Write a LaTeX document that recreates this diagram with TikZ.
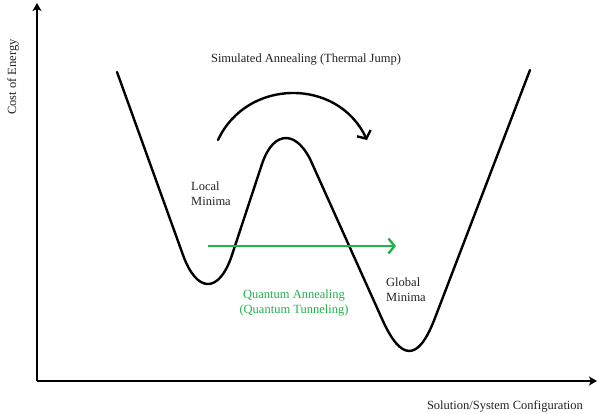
\documentclass[tikz,border=0pt]{standalone}
\usepackage{fontspec}
\setmainfont{Liberation Serif}
\usetikzlibrary{arrows.meta}
\definecolor{paintgreen}{HTML}{22B14C}
\definecolor{txtgray}{HTML}{222222}
\tikzset{
  axisline/.style={line width=2pt,-{Stealth[length=8pt,width=9pt,inset=2pt]}},
  curveline/.style={line width=2.4pt,line join=round,line cap=round},
  jumparrow/.style={line width=2.4pt,line cap=round,-{Straight Barb[length=6pt,width=15pt,line width=2.4pt]}},
  tunnelarrow/.style={line width=2.4pt,paintgreen,-{Straight Barb[length=6pt,width=15pt,line width=2.4pt]}},
  lbl/.style={font=\fontsize{12.5}{15}\selectfont,text=txtgray,inner sep=0pt},
}
\begin{document}
\begin{tikzpicture}[x=1pt,y=-1pt]
\useasboundingbox (0,0) rectangle (598,413);
% axes
\coordinate (origin) at (37,381);
\coordinate (ytip) at (37,3);
\coordinate (xtip) at (597,381);
\draw[axisline] (origin) -- (ytip);
\draw[axisline] (origin) -- (xtip);
\node[lbl,rotate=90] (ylab) at (13,77) {Cost of Energy};
\node[lbl] (xlab) at (505,406) {Solution/System Configuration};
% energy landscape
\draw[curveline] (117,72) -- (183,255)
  .. controls (197,293.7) and (219.2,293.7) .. (232,255)
  -- (262,164)
  .. controls (273.7,128.7) and (298.1,129.7) .. (312.75,165)
  -- (382.5,320)
  .. controls (401.1,361.3) and (418.1,361.3) .. (434.2,320)
  -- (530,70);
% thermal jump
\coordinate (jumpstart) at (218,140);
\coordinate (jumpend) at (367,140);
\draw[jumparrow] (jumpstart) .. controls (247.1,77.7) and (337.9,77.7) .. (jumpend);
\node[lbl] (salab) at (306,60) {Simulated Annealing (Thermal Jump)};
% quantum tunneling
\coordinate (tunstart) at (208,246);
\coordinate (tunend) at (396,246);
\draw[tunnelarrow] (tunstart) -- (tunend);
\node[lbl,text=paintgreen,align=center] (qalab) at (294,303) {Quantum Annealing\\(Quantum Tunneling)};
% minima labels
\node[lbl,align=left,anchor=west] (loclab) at (191,194) {Local\\Minima};
\node[lbl,align=left,anchor=west] (globlab) at (386,290) {Global\\Minima};
\end{tikzpicture}
\end{document}
